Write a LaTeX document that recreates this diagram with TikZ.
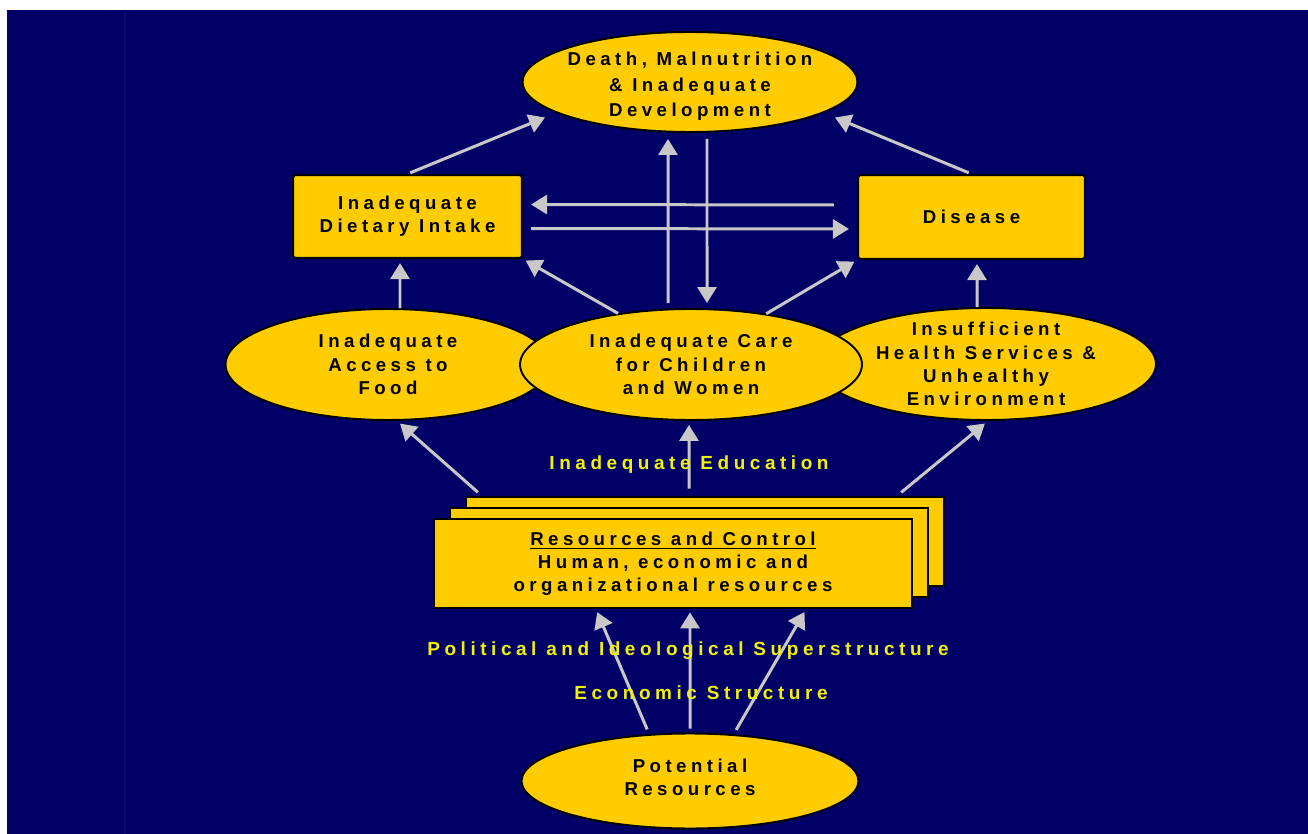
\documentclass[tikz,border=0pt]{standalone}
\usepackage{fontspec}
\usetikzlibrary{arrows.meta,shapes.geometric}
\newfontfamily\diafont[LetterSpace=24]{Liberation Sans}
\definecolor{navy}{HTML}{000066}
\definecolor{seam}{HTML}{0A0A70}
\definecolor{gold}{HTML}{FFCC00}
\definecolor{arrowgray}{HTML}{C8C8C8}
\definecolor{labyellow}{HTML}{F2F200}
\tikzset{oval/.style={ellipse,draw=black,line width=1.1pt,fill=gold,inner sep=-0.5cm,align=center,
  font=\diafont\bfseries\fontsize{10.6}{13.2}\selectfont},
box/.style={draw=black,line width=1.2pt,fill=gold,rounded corners=1.5pt,inner sep=0pt,align=center,
  font=\diafont\bfseries\fontsize{10.6}{13.2}\selectfont},
pile/.style={draw=black,line width=1.6pt,fill=gold,minimum width=9.56cm,minimum height=1.78cm,inner sep=0pt,align=center,
  font=\diafont\bfseries\fontsize{10.6}{13}\selectfont},
arr/.style={-{Triangle[length=0.32cm,width=0.38cm]},line width=1.7pt,arrowgray},
tag/.style={text=labyellow,inner sep=0pt,font=\diafont\bfseries\fontsize{10.8}{12}\selectfont}}

\begin{document}
\begin{tikzpicture}[x=0.02cm,y=-0.02cm]
\useasboundingbox (0,0) rectangle (1308,834);
\fill[white] (0,0) rectangle (1308,834);
\fill[navy] (7,10) rectangle (1308,834);
\draw[seam,line width=0.04cm] (125,10)--(125,834);
\node[oval,minimum width=6.7cm,minimum height=2cm,font=\diafont\bfseries\fontsize{10.6}{14.3}\selectfont] (death) at (690,82) {\rule{0pt}{12.5pt}Death, Malnutrition\\\& Inadequate\\Development};
\node[box,minimum width=4.58cm,minimum height=1.66cm] (dietary) at (407.5,216.5) {Inadequate\\Dietary Intake};
\node[box,minimum width=4.54cm,minimum height=1.68cm] (disease) at (971.5,217) {Disease};
\node[oval,minimum width=6.5cm,minimum height=2.22cm] (access) at (388,364.5) {Inadequate\\Access to\\Food};
\node[oval,minimum width=6.8cm,minimum height=2.24cm] (health) at (986,364) {Insufficient\\Health Services \&\\Unhealthy\\Environment};
\node[oval,minimum width=6.84cm,minimum height=2.22cm] (care) at (691,364.5) {Inadequate Care\\for Children\\and Women};
\node[pile] (res3) at (705,541.5) {};
\node[pile] (res2) at (689,552.5) {};
\node[pile] (res) at (673,563.5) {\underline{Resources and Control}\\Human, economic and\\organizational resources};
\node[oval,minimum width=6.74cm,minimum height=1.9cm] (potential) at (690,781) {Potential\\Resources\rule[-4.6pt]{0pt}{1pt}};
\draw[arr,shorten <=0.06cm,shorten >=0.24cm] (dietary.north) -- (death.193);
\draw[arr,shorten <=0.06cm,shorten >=0.24cm] (disease.north) -- (death.347);
\draw[arr,shorten <=0.1cm,shorten >=0.12cm] ([xshift=-0.46cm]care.north) -- ([xshift=-0.44cm]death.south);
\draw[arr,shorten <=0.12cm,shorten >=0.1cm] ([xshift=0.34cm]death.south) -- ([xshift=0.32cm]care.north);
\draw[arr,shorten <=0.46cm,shorten >=0.16cm] ([yshift=0.24cm]disease.west) -- ([yshift=0.24cm]dietary.east);
\draw[arr,shorten <=0.16cm,shorten >=0.16cm] ([yshift=-0.24cm]dietary.east) -- ([yshift=-0.24cm]disease.west);
\draw[arr,shorten >=0.08cm] ([xshift=0.24cm]access.north) -- ([xshift=-0.15cm]dietary.south);
\draw[arr,shorten >=0.06cm] (care.145) -- (dietary.south east);
\draw[arr,shorten >=0.06cm] (care.34) -- (disease.south west);
\draw[arr,shorten >=0.08cm] ([xshift=-0.18cm]health.north) -- ([xshift=0.11cm]disease.south);
\draw[arr,shorten <=0.1cm,shorten >=0.08cm] ([xshift=0.34cm]res3.north west) -- ([xshift=0.18cm]access.south);
\draw[arr,shorten <=0.14cm,shorten >=0.08cm] ([xshift=-0.32cm]res3.north) -- ([xshift=-0.04cm]care.south);
\draw[arr,shorten <=0.1cm,shorten >=0.08cm] ([xshift=-0.96cm]res3.north east) -- ([xshift=0.04cm]health.south);
\draw[arr,shorten <=0.1cm,shorten >=0.06cm] (potential.131) -- ([xshift=-1.54cm]res.south);
\draw[arr,shorten <=0.08cm,shorten >=0.06cm] (potential.north) -- ([xshift=0.34cm]res.south);
\draw[arr,shorten <=0.1cm,shorten >=0.06cm] (potential.47) -- ([xshift=2.66cm]res.south);
\node[tag] (edu) at (689,465) {Inadequate Education};
\node[tag] (pol) at (688,651) {Political and Ideological Superstructure};
\node[tag] (eco) at (701,693) {Economic Structure};
\end{tikzpicture}
\end{document}
